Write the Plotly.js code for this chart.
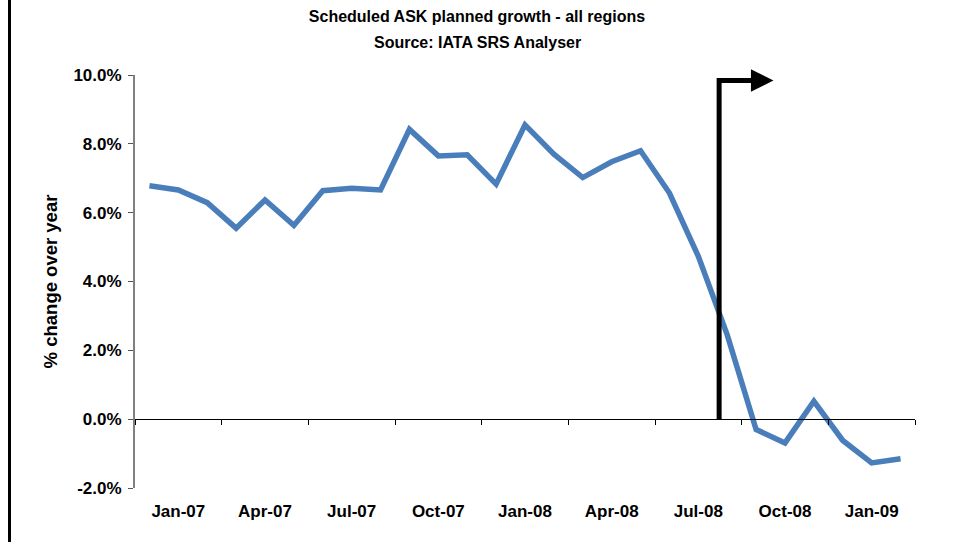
<!DOCTYPE html>
<html>
<head>
<meta charset="utf-8">
<script src="https://cdn.plot.ly/plotly-3.0.1.min.js"></script>
<style>html,body{margin:0;padding:0;background:#fff;}#chart{width:954px;height:542px;}</style>
</head>
<body>
<div id="chart"></div>
<script>
// Months Jan-07 .. Mar-09
const months = ["Jan-07","Feb-07","Mar-07","Apr-07","May-07","Jun-07","Jul-07","Aug-07","Sep-07","Oct-07","Nov-07","Dec-07",
                "Jan-08","Feb-08","Mar-08","Apr-08","May-08","Jun-08","Jul-08","Aug-08","Sep-08","Oct-08","Nov-08","Dec-08",
                "Jan-09","Feb-09","Mar-09"];
// % change over year
const growth = [6.78,6.66,6.29,5.55,6.37,5.63,6.64,6.71,6.66,8.42,7.65,7.68,
                6.83,8.55,7.70,7.02,7.48,7.80,6.57,4.73,2.45,-0.30,-0.69,0.52,
                -0.62,-1.27,-1.15];
const tickLabels = ["Jan-07","Apr-07","Jul-07","Oct-07","Jan-08","Apr-08","Jul-08","Oct-08","Jan-09"];
const yTicks = [-2,0,2,4,6,8,10];

const idx = months.map((m,i)=>i);
const labelPos = tickLabels.map(l => months.indexOf(l) + 1);
const boundaries = [];
for (let b = -0.5; b <= months.length - 0.5; b += 3) boundaries.push(b);

// arrow marker position (between Aug-08 and Sep-08)
const arrowX = 19.72, arrowTop = 9.84, arrowEnd = 21.6;

const font = "Arial, 'Liberation Sans', sans-serif";
const xr = [-0.5, months.length - 0.5];

const data = [{
  x: idx, y: growth, type: 'scatter', mode: 'lines',
  line: {color: '#4A7EBB', width: 5.5}, xaxis: 'x', yaxis: 'y', hoverinfo: 'skip'
}];

const layout = {
  width: 954, height: 542,
  margin: {l: 135, r: 39, t: 75, b: 54},
  paper_bgcolor: '#fff', plot_bgcolor: '#fff',
  showlegend: false,
  font: {family: font, color: '#000'},
  title: {
    text: "<b>Scheduled ASK planned growth - all regions</b>",
    font: {family: font, size: 16, color: '#000'},
    xref: 'container', x: 0.5, xanchor: 'center',
    yref: 'container', y: 1 - 16.5/542, yanchor: 'middle'
  },
  annotations: [
    {text: "<b>Source: IATA SRS Analyser</b>", xref: 'paper', yref: 'paper',
     x: (477 - 135) / 780, y: (488 - 42.5) / 413, xanchor: 'center', yanchor: 'middle',
     showarrow: false, font: {family: font, size: 16, color: '#000'}},
    {x: arrowEnd, y: arrowTop, ax: arrowX - 0.05, ay: arrowTop, xref: 'x', yref: 'y', axref: 'x', ayref: 'y',
     text: '', showarrow: true, arrowhead: 2, arrowsize: 0.9, arrowwidth: 5, arrowcolor: '#000', standoff: 0}
  ],
  shapes: [
    {type: 'line', xref: 'x', yref: 'y', x0: arrowX, x1: arrowX, y0: 0, y1: arrowTop + 0.07,
     line: {color: '#000', width: 5}},
    {type: 'line', xref: 'paper', yref: 'paper', x0: (9.5 - 135)/780, x1: (9.5 - 135)/780, y0: -0.3, y1: 1.4,
     line: {color: '#000', width: 3}}
  ],
  xaxis: {
    range: xr, tickmode: 'array', tickvals: labelPos, ticktext: tickLabels,
    ticks: 'outside', ticklen: 0, tickcolor: '#fff', showline: false, showgrid: false, zeroline: false,
    tickfont: {family: font, size: 17, color: '#000', weight: 'bold'}, ticklabelstandoff: 8,
    anchor: 'y', fixedrange: true
  },
  xaxis2: {
    range: xr, overlaying: 'x', anchor: 'free', position: 2/12,
    tickmode: 'array', tickvals: boundaries, ticks: 'outside', ticklen: 5, tickcolor: '#000', tickwidth: 1,
    showticklabels: false, showline: true, linecolor: '#000', linewidth: 1, showgrid: false, zeroline: false
  },
  yaxis: {
    range: [-2, 10], tickmode: 'array', tickvals: yTicks,
    ticktext: yTicks.map(v => v.toFixed(1) + '%'),
    ticks: 'outside', ticklen: 5, tickcolor: '#555', showline: true, linecolor: '#808080', linewidth: 2,
    showgrid: false, zeroline: false,
    tickfont: {family: font, size: 17, color: '#000', weight: 'bold'}, ticklabelstandoff: 3,
    title: {text: '% change over year', font: {family: font, size: 18.5, color: '#000', weight: 'bold'}, standoff: 11}
  }
};

data.push({x: [0], y: [null], xaxis: 'x2', yaxis: 'y', type: 'scatter', mode: 'lines', hoverinfo: 'skip', showlegend: false});

Plotly.newPlot('chart', data, layout, {staticPlot: true});
</script>
</body>
</html>
